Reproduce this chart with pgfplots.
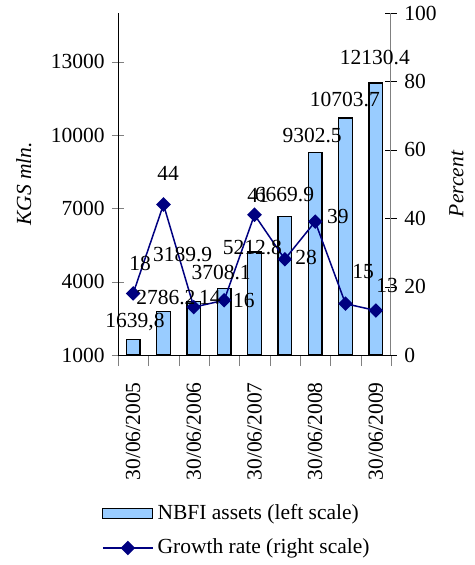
\documentclass[border=0pt]{standalone}
\usepackage{fontspec}
\setmainfont{Liberation Serif}
\usepackage{pgfplots}
\pgfplotsset{compat=1.18}
\definecolor{barblue}{RGB}{153,204,255}
\definecolor{navyline}{RGB}{0,0,128}
\newcommand\chartfont{\fontsize{21.5}{25}\selectfont}
\pgfplotsset{
  barlegend/.style={legend image code/.code={\draw[##1] (0pt,-5pt) rectangle (50pt,5pt);}},
  linelegend/.style={legend image code/.code={\draw[##1, mark repeat=2, mark phase=2]
    plot coordinates {(0pt,0pt) (25pt,0pt) (50pt,0pt)};}},
}

\begin{document}
\chartfont
\begin{tikzpicture}
\path[use as bounding box] (-118pt,-210pt) rectangle (356pt,355pt);
\pgfplotsset{
  base/.style={
    width=273pt, height=342pt, scale only axis,
    at={(0pt,0pt)}, anchor=south west,
    xmin=-0.5, xmax=8.5,
    tick align=center,
    major tick length=12pt,
    scaled y ticks=false,
    /pgf/number format/assume math mode=true,
    /pgf/number format/1000 sep={},
    tick label style={font=\chartfont},
  }
}
% NBFI assets, left scale
\begin{axis}[base,
  ybar, bar width=13.5pt,
  ymin=1000, ymax=15000,
  ytick={1000,4000,7000,10000,13000},
  axis y line*=left, axis x line*=bottom,
  xtick={0,2,4,6,8},
  xticklabels={30/06/2005,30/06/2006,30/06/2007,30/06/2008,30/06/2009},
  major x tick style={draw=none},
  minor xtick={-0.5,0.5,...,8.5},
  minor tick length=11pt,
  xticklabel style={rotate=90, anchor=east},
  xticklabel shift=8pt,
  ylabel={KGS mln.},
  every axis y label/.style={at={(rel axis cs:-0.345,0.5)}, rotate=90, anchor=center,
    font=\chartfont\itshape},
]
\addplot[fill=barblue, draw=black, line width=1.3pt] table {
x y
0 1639.8
1 2786.2
2 3189.9
3 3708.1
4 5212.8
5 6669.9
6 9302.5
7 10703.7
8 12130.4
};
\end{axis}
% Growth rate, right scale
\begin{axis}[base,
  ymin=0, ymax=100,
  ytick={0,20,40,60,80,100},
  axis y line*=right, axis x line=none,
  y axis line style={draw=gray, line width=1pt},
  ytick style={draw=black},
  clip=false,
  ylabel={Percent},
  every axis y label/.style={at={(rel axis cs:1.24,0.5)}, rotate=90, anchor=center,
    font=\chartfont\itshape},
  legend style={draw=none, fill=none, font=\chartfont,
    at={(rel axis cs:-0.07,-0.425)}, anchor=north west,
    row sep=12pt, column sep=2pt, legend cell align=left},
]
\addlegendimage{draw=black, fill=barblue, line width=1.3pt, barlegend}
\addlegendentry{NBFI assets (left scale)}
\addplot[navyline, line width=1.5pt, mark=square*, mark size=4.4pt,
  mark options={rotate=45, fill=navyline}, linelegend] table {
x y
0 18
1 44
2 14
3 16
4 41
5 28
6 39
7 15
8 13
};
\addlegendentry{Growth rate (right scale)}
% value labels
\addplot[draw=none, forget plot, nodes near coords, point meta=explicit symbolic,
  every node near coord/.append style={anchor=center, inner sep=0pt, font=\chartfont, text=black}]
  table[meta=lab] {
x y lab
0.06 9.6 1639,8
1.08 16.7 2786.2
1.63 29.5 3189.9
2.90 24.0 3708.1
3.93 31.3 5212.8
4.99 46.8 6669.9
5.90 64.3 9302.5
6.98 74.6 10703.7
7.97 87.1 12130.4
0.23 26.9 18
1.15 53.2 44
2.53 16.7 14
3.65 15.8 16
4.12 46.8 41
5.70 28.4 28
6.75 40.6 39
7.58 24.3 15
8.37 20.2 13
};
\end{axis}
\end{tikzpicture}
\end{document}
